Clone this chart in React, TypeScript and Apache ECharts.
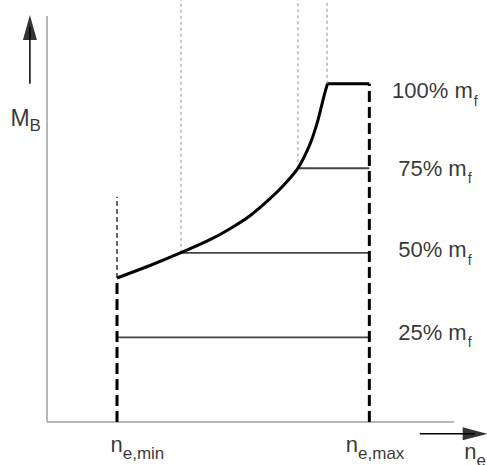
import React, { useEffect, useRef } from 'react';
import * as echarts from 'echarts';

// ---- data (axis units: x 0..100 = engine speed, y 0..120 = torque, 100 = full load) ----
const curveX = [17.2, 25.31, 32.92, 40.05, 44.96, 49.88, 54.79, 58.48, 61.67, 64.62, 66.58, 68.06, 68.92];
const curveY = [42.57, 46.26, 50.04, 53.89, 57.14, 60.98, 66.01, 70.44, 75.05, 82.15, 89.24, 96.34, 100];
const nMin = 17.2;
const nMax = 79.2;
const nFull = 68.92;
const fullLoad = 100;
const loadLevels = [25, 50, 75];
const loadStartX = [17.2, 32.92, 61.67];
const guideX = [32.92, 61.67, 68.8];
const guideBottomY = [50, 75, 100];
const guideTopY = 125;
const minExtensionTopY = 66.6;
const labelLevels = [25, 50, 75, 100];
const labelTexts = ['25% m', '50% m', '75% m', '100% m'];
const labelX = 95.3;
const axisXEnd = 100;
const axisYEnd = 120;

const FONT = 'Arial';

export default function App() {
  const ref = useRef<HTMLDivElement>(null);
  useEffect(() => {
    if (!ref.current) return;
    const chart = echarts.init(ref.current, undefined, { renderer: 'svg' });

    const thick = { color: '#000', width: 3 };
    const line = (data: any[], style: any, extra: any = {}) => ({
      type: 'line',
      data,
      symbol: 'none',
      clip: false,
      silent: true,
      lineStyle: style,
      ...extra,
    });

    const series: any[] = [];
    // axis lines
    series.push(line([[0, 0], [axisXEnd, 0]], { color: '#a0a0a0', width: 1.5 }));
    series.push(line([[0, 0], [0, axisYEnd]], { color: '#a0a0a0', width: 1.5 }));
    // dotted guide lines
    guideX.forEach((gx, i) => {
      series.push(line([[gx, guideBottomY[i]], [gx, guideTopY]], { color: '#aaa', width: 1.3, type: [3, 3] }));
    });
    // partial load lines
    loadLevels.forEach((lv, i) => {
      series.push(line([[loadStartX[i], lv], [nMax, lv]], { color: '#444', width: 1.8 }));
    });
    // n_min thin extension
    series.push(line([[nMin, curveY[0]], [nMin, minExtensionTopY]], { color: '#000', width: 1.2, type: [5, 3] }));
    // n_min and n_max thick dashed
    series.push(line([[nMin, 0], [nMin, curveY[0]]], { color: '#000', width: 3, type: [11, 5] }));
    series.push(line([[nMax, 0], [nMax, fullLoad]], { color: '#000', width: 3, type: [11, 5] }));
    // full load curve
    series.push(line(curveX.map((x, i) => [x, curveY[i]]), thick, { smooth: 0.2 }));
    series.push(line([[nFull, fullLoad], [nMax, fullLoad]], thick));
    // arrows (axis direction markers)
    series.push(line([[-4.2, 100], [-4.2, 116.8]], { color: '#000', width: 1.5 }));
    series.push(line([[91.6, -3.5], [105.2, -3.5]], { color: '#000', width: 1.5 }));
    series.push({
      type: 'scatter',
      clip: false,
      silent: true,
      symbol: 'triangle',
      symbolSize: [14, 25],
      itemStyle: { color: '#000' },
      data: [
        { value: [-4.2, 116.6], symbolRotate: 0 },
        { value: [105.2, -3.5], symbolRotate: -90, symbolSize: [13, 25] },
      ],
    });

    const tok = (size: number, pad?: number[]) => ({
      fontSize: size,
      fontFamily: FONT,
      fontWeight: 'normal',
      color: '#000',
      lineHeight: size,
      verticalAlign: 'top',
      ...(pad ? { padding: pad } : {}),
    });
    const rich = {
      big: tok(22),
      fs: tok(14, [14, 0, 0, 1]),
      es: tok(17, [12, 0, 0, 0]),
      bs: tok(17, [11, 0, 0, 0]),
      cap: tok(23),
    };
    const pctOffsets = [[0, -5], [0, -3], [0, 0], [0, 7]];
    const labelData: any[] = labelLevels.map((lv, i) => ({
      value: [labelX, lv],
      label: { formatter: `{big|${labelTexts[i]}}{fs|f}`, offset: pctOffsets[i], align: 'center' },
    }));
    labelData.push({
      value: [nMin, 0],
      label: { formatter: '{big|n}{es|e,min}', align: 'left', offset: [-6.5, 22] },
    });
    labelData.push({
      value: [nMax, 0],
      label: { formatter: '{big|n}{es|e,max}', align: 'left', offset: [-23.5, 22] },
    });
    labelData.push({
      value: [102.5, -8.6],
      label: { formatter: '{big|n}{es|e}', align: 'left', offset: [0, 0] },
    });
    labelData.push({
      value: [-9, 90],
      label: { formatter: '{cap|M}{bs|B}', align: 'left', offset: [0, 0] },
    });
    series.push({
      type: 'scatter',
      clip: false,
      silent: true,
      symbolSize: 0,
      data: labelData,
      label: { show: true, position: 'inside', verticalAlign: 'middle', fontFamily: FONT, fontSize: 22, rich },
    });

    const axisCommon = {
      type: 'value',
      axisLine: { show: false },
      axisTick: { show: false },
      axisLabel: { show: false },
      splitLine: { show: false },
    };

    chart.setOption({
      animation: false,
      backgroundColor: '#fff',
      textStyle: { fontFamily: FONT },
      grid: { left: 0, right: 0, top: 0, bottom: 0 },
      xAxis: { ...axisCommon, min: -11.55, max: 108.11 },
      yAxis: { ...axisCommon, min: -12.71, max: 124.74 },
      series,
    });
    return () => chart.dispose();
  }, []);
  return (
    <div
      ref={ref}
      style={{
        position: 'absolute',
        left: 0,
        top: 0,
        width: 487,
        height: 465,
        fontFamily: 'Liberation Sans, Arial, sans-serif',
      }}
    />
  );
}
